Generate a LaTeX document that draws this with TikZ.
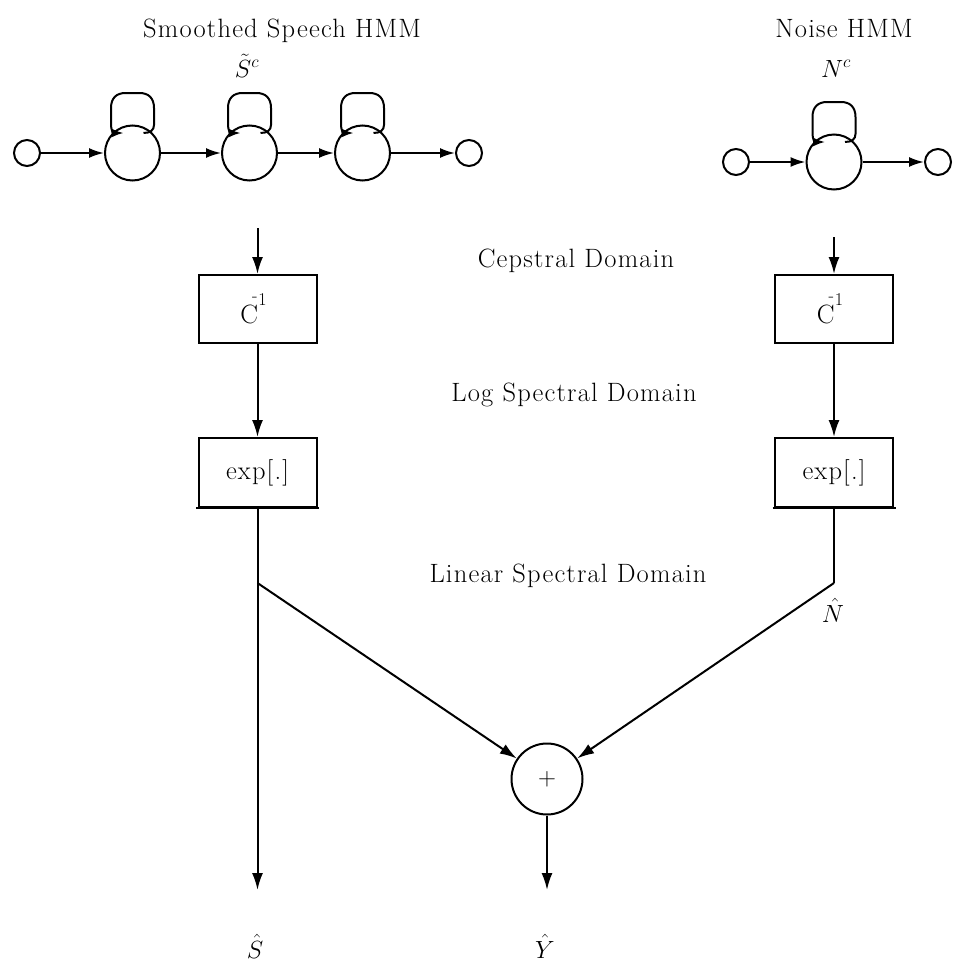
\documentclass[tikz,border=0pt]{standalone}
\usepackage{fontspec}
\setmainfont{Latin Modern Roman}[LetterSpace=4.5]
\usetikzlibrary{arrows.meta}
\newcommand\hmmloop[1]{%
  \draw[ln,-{Latex[length=12pt,width=9pt]}]
    ([shift={(11,-20)}]#1.center) .. controls ([shift={(18,-20)}]#1.center) and ([shift={(21.5,-23)}]#1.center) .. ([shift={(21.5,-28)}]#1.center)
    -- ([shift={(21.5,-45)}]#1.center) .. controls ([shift={(21.5,-55)}]#1.center) and ([shift={(16,-60)}]#1.center) .. ([shift={(7,-60)}]#1.center)
    -- ([shift={(-7,-60)}]#1.center) .. controls ([shift={(-16,-60)}]#1.center) and ([shift={(-21.5,-55)}]#1.center) .. ([shift={(-21.5,-45)}]#1.center)
    -- ([shift={(-21.5,-28)}]#1.center) .. controls ([shift={(-21.5,-23)}]#1.center) and ([shift={(-19,-20)}]#1.center) .. ([shift={(-9,-20)}]#1.center);}
\newcommand\Cinv{C\kern-6pt\raisebox{22pt}{\fontsize{18}{18}\selectfont -}\kern1pt\raisebox{18pt}{\fontsize{18}{18}\selectfont 1}\kern8pt}
\begin{document}
\begin{tikzpicture}[x=1pt,y=-1pt,
  every node/.style={font=\fontsize{26.5}{30}\selectfont},
  ln/.style={line width=2pt},
  arr/.style={ln,-{Latex[length=17pt,width=11pt]}},
  harr/.style={ln,-{Latex[length=15pt,width=10pt]}},
  smallst/.style={circle,draw,ln,minimum size=26pt,inner sep=0pt},
  bigst/.style={circle,draw,ln,minimum size=55pt,inner sep=0pt},
  boxst/.style={draw,ln,minimum width=118pt,minimum height=68pt,inner sep=0pt},
  lbl/.style={inner sep=0pt,anchor=base}]
\useasboundingbox (0,0) rectangle (953,964);
% titles
\node[lbl] (t1) at (282,37) {Smoothed Speech HMM};
\node[lbl] (t1m) at (247,77) {$\tilde{S}^c$};
\node[lbl] (t2) at (844,37) {Noise HMM};
\node[lbl] (t2m) at (836,77) {$N^c$};
% speech HMM
\node[smallst] (s0) at (27,153) {};
\node[bigst] (s1) at (132.5,153) {};
\node[bigst] (s2) at (249.5,153) {};
\node[bigst] (s3) at (362.5,153) {};
\node[smallst] (s4) at (469,153) {};
\draw[harr] (s0) -- (s1);
\draw[harr] (s1) -- (s2);
\draw[harr] (s2) -- (s3);
\draw[harr] (s3) -- (s4);
\hmmloop{s1}\hmmloop{s2}\hmmloop{s3}
% noise HMM
\node[smallst] (n0) at (736,162) {};
\node[bigst] (n1) at (834,162) {};
\node[smallst] (n2) at (938,162) {};
\draw[harr] (n0) -- (n1);
\draw[harr] (n1) -- (n2);
\hmmloop{n1}
% domain labels
\node[lbl] (d1) at (576,267) {Cepstral Domain};
\node[lbl] (d2) at (574,401) {Log Spectral Domain};
\node[lbl] (d3) at (568,582) {Linear Spectral Domain};
% boxes
\node[boxst] (CL) at (257.5,309) {\Cinv};
\node[boxst,minimum height=69pt] (EL) at (257.5,472.5) {exp[.]};
\node[boxst] (CR) at (834,309) {\Cinv};
\node[boxst,minimum height=69pt] (ER) at (834,472.5) {exp[.]};
\draw[ln] ([xshift=-1.5pt]EL.south west) -- ([xshift=1.5pt]EL.south east);
\draw[ln] ([xshift=-1.5pt]ER.south west) -- ([xshift=1.5pt]ER.south east);
\coordinate (tL) at (257.5,228);
\coordinate (tR) at (834,237);
\draw[arr] (tL) -- (CL.north);
\draw[arr] (tR) -- (CR.north);
\draw[arr] (CL.south) -- (EL.north);
\draw[arr] (CR.south) -- (ER.north);
% linear domain
\coordinate (bL) at (257.5,583);
\coordinate (bR) at (834,583);
\coordinate (sL) at (257.5,890);
\coordinate (yL) at (547,890);
\node[circle,draw,ln,minimum size=71pt,inner sep=0pt] (plus) at (547,779) {$+$};
\draw[arr] (EL.south) -- (sL);
\draw[arr] (bL) -- (plus);
\draw[ln] (ER.south) -- (bR);
\draw[arr] (bR) -- (plus);
\draw[arr] (plus) -- (yL);
\node[lbl] (Nh) at (833,622) {$\hat{N}$};
\node[lbl] (Sh) at (255,958) {$\hat{S}$};
\node[lbl] (Yh) at (545,958) {$\hat{Y}$};
\end{tikzpicture}
\end{document}
